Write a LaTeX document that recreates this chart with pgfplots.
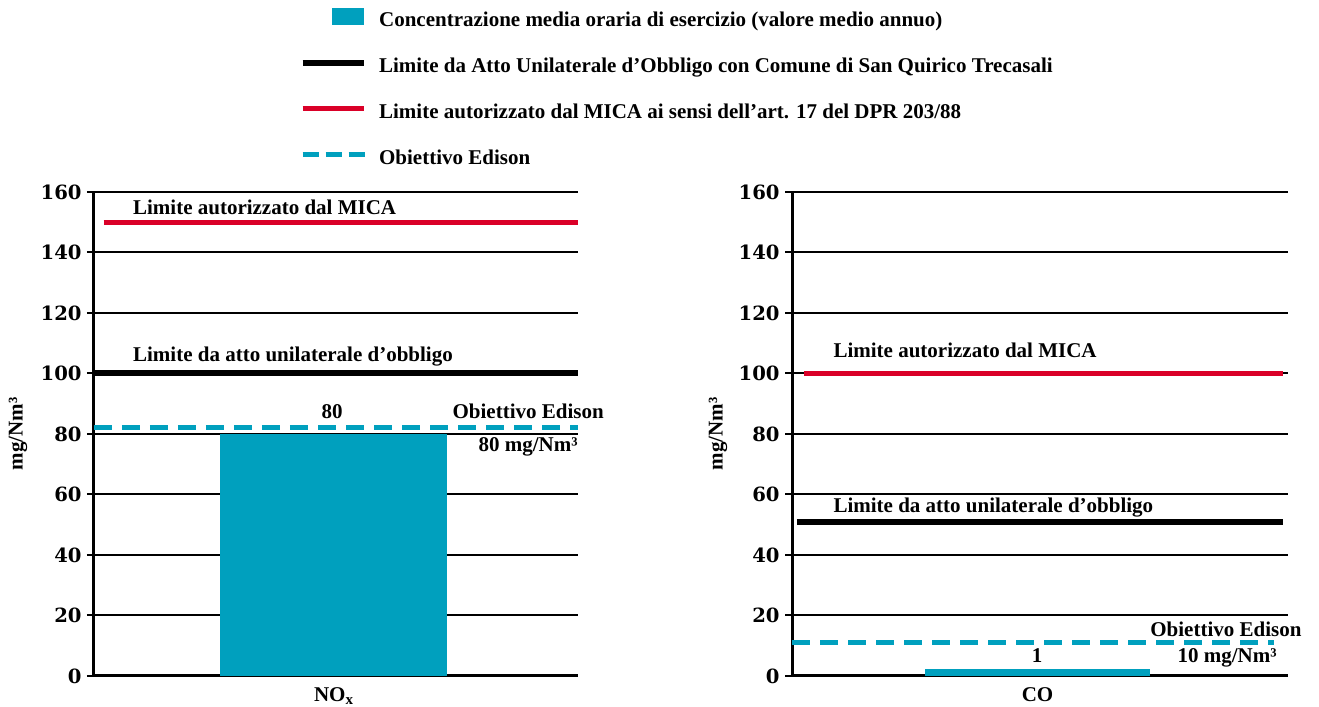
\documentclass[border=0pt]{standalone}
\usepackage{fontspec}
\setmainfont{Liberation Serif}
\newfontfamily\tickfont{DejaVu Serif}
\usepackage{pgfplots}
\pgfplotsset{compat=1.18}

\definecolor{micared}{RGB}{218,0,40}
\definecolor{edison}{RGB}{0,160,190}
\newcommand\lbl{\bfseries\fontsize{10.5}{12.6}\selectfont}

\pgfplotsset{
  panel/.style={
    scale only axis, height=242pt,
    xmin=0, xmax=1, ymin=0, ymax=160,
    ytick={0,20,...,160},
    axis x line=bottom, axis y line=left,
    axis line style={-, line width=1.5pt},
    tick align=outside, major tick length=3.5pt,
    ytick style={black, line width=1pt},
    xtick style={draw=none},
    ymajorgrids, major grid style={black, line width=1pt},
    clip=false,
    /pgf/number format/assume math mode=true,
    yticklabel style={font=\tickfont\bfseries\fontsize{9.8}{11}\selectfont, inner sep=0pt, xshift=-2.5pt},
    xticklabel style={font=\lbl, yshift=1pt},
    ylabel style={font=\lbl, anchor=center},
    ylabel={mg/Nm³},
  },
  lim/.style={forget plot, line width=#1},
}

\begin{document}
\begin{tikzpicture}
\useasboundingbox (-47pt,-15.5pt) rectangle (612.5pt,338pt);

% NOx
\begin{axis}[panel, width=242pt, at={(0,0)}, anchor=south west,
    xtick={0.495}, xticklabels={NO\raisebox{-1.2pt}{\fontsize{7.5}{8}\selectfont x}},
    ylabel style={at={(axis description cs:-0.157,0.5)}},
    legend style={at={(axis description cs:0.424,1.382)}, anchor=north west,
      draw=none, fill=none, inner sep=0pt, row sep=12pt, column sep=6pt,
      font=\lbl, nodes={inner sep=0pt, text height=8pt, text depth=3pt}},
    legend cell align=left]
  \addlegendimage{legend image code/.code={\fill[edison] (15pt,-1pt) rectangle (30.5pt,7pt);}}
  \addlegendentry{Concentrazione media oraria di esercizio (valore medio annuo)}
  \addlegendimage{legend image code/.code={\draw[black, line width=3pt] (0pt,2.5pt) -- (30.5pt,2.5pt);}}
  \addlegendentry{Limite da Atto Unilaterale d’Obbligo con Comune di San Quirico Trecasali}
  \addlegendimage{legend image code/.code={\draw[micared, line width=2.5pt] (0pt,2.5pt) -- (30.5pt,2.5pt);}}
  \addlegendentry{Limite autorizzato dal MICA ai sensi dell’art. 17 del DPR 203/88}
  \addlegendimage{legend image code/.code={\draw[edison, line width=2.5pt, dash pattern=on 8pt off 3.5pt] (0pt,2.5pt) -- (31pt,2.5pt);}}
  \addlegendentry{Obiettivo Edison}

  \addplot[ybar, bar width=113.5pt, fill=edison, draw=none, forget plot] coordinates {(0.495,80)};
  \addplot[lim=2.5pt, micared] coordinates {(0.02,150) (1,150)};
  \addplot[lim=3pt, black] coordinates {(0,100) (1,100)};
  \addplot[lim=2.5pt, edison, dash pattern=on 9pt off 5pt] coordinates {(0,82) (1,82)};

  \node[anchor=base west, font=\lbl, inner sep=0pt, yshift=4pt] at (axis cs:0.08,150) {Limite autorizzato dal MICA};
  \node[anchor=base west, font=\lbl, inner sep=0pt, yshift=6pt] at (axis cs:0.08,100) {Limite da atto unilaterale d’obbligo};
  \node[anchor=base, font=\lbl, inner sep=0pt, yshift=7.5pt] at (axis cs:0.492,80) {80};
  \node[anchor=base east, font=\lbl, inner sep=0pt, yshift=4.5pt] at (axis cs:1.054,82) {Obiettivo Edison};
  \node[anchor=base east, font=\lbl, inner sep=0pt, yshift=-12pt] at (axis cs:1.0,82) {80 mg/Nm³};
\end{axis}

% CO
\begin{axis}[panel, width=248pt, at={(349pt,0)}, anchor=south west,
    xtick={0.495}, xticklabels={CO},
    ylabel style={at={(axis description cs:-0.149,0.5)}}]
  \addplot[ybar, bar width=112.5pt, fill=edison, draw=none, forget plot] coordinates {(0.495,2.2)};
  \addplot[lim=2.5pt, micared] coordinates {(0.024,100) (0.99,100)};
  \addplot[lim=3pt, black] coordinates {(0.01,51) (0.99,51)};
  \addplot[lim=2.5pt, edison, dash pattern=on 9pt off 5pt] coordinates {(0,11) (0.972,11)};

  \node[anchor=base west, font=\lbl, inner sep=0pt, yshift=8pt] at (axis cs:0.083,100) {Limite autorizzato dal MICA};
  \node[anchor=base west, font=\lbl, inner sep=0pt, yshift=4.5pt] at (axis cs:0.083,51) {Limite da atto unilaterale d’obbligo};
  \node[anchor=base, font=\lbl, inner sep=0pt, yshift=6.5pt] at (axis cs:0.494,0) {1};
  \node[anchor=base east, font=\lbl, inner sep=0pt, yshift=3pt] at (axis cs:1.028,11) {Obiettivo Edison};
  \node[anchor=base east, font=\lbl, inner sep=0pt, yshift=-10pt] at (axis cs:0.978,11) {10 mg/Nm³};
\end{axis}
\end{tikzpicture}
\end{document}
